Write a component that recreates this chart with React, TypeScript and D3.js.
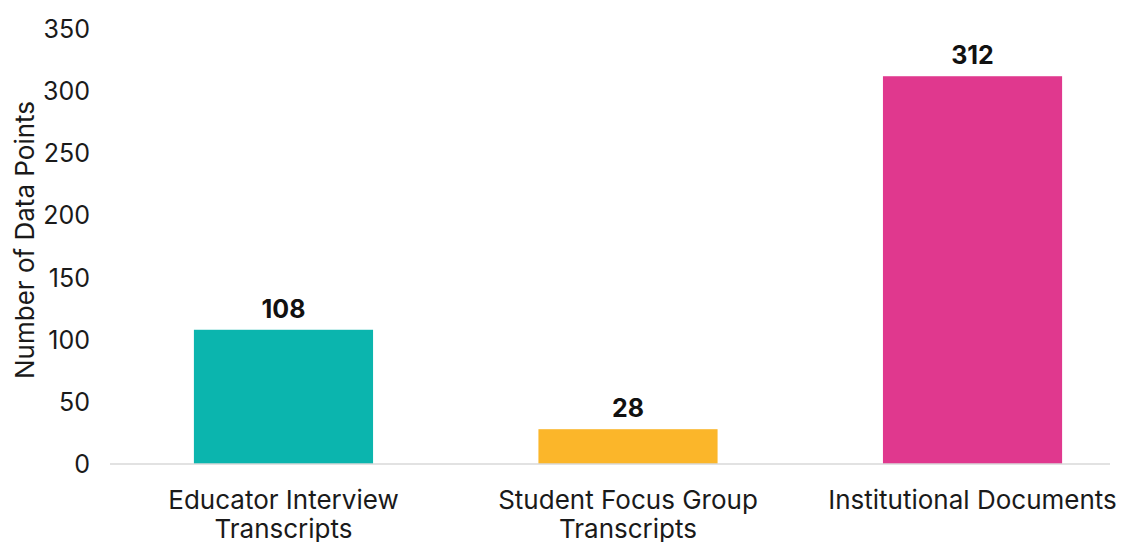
import React from "react";
import * as d3 from "d3";

const categories: string[][] = [
  ["Educator Interview", "Transcripts"],
  ["Student Focus Group", "Transcripts"],
  ["Institutional Documents"],
];
const values: number[] = [108, 28, 312];
const colors: string[] = ["#0BB5AE", "#FBB62A", "#E0388E"];
const yTicks: number[] = [0, 50, 100, 150, 200, 250, 300, 350];
const yTitle = "Number of Data Points";

const W = 1130;
const H = 542;
const FONT = "Inter, 'Open Sans', sans-serif";

export default function App() {
  const keys = categories.map((c) => c.join(" "));
  const x = d3
    .scaleBand<string>()
    .domain(keys)
    .range([125, 1131])
    .paddingInner(0.48)
    .paddingOuter(0.2);
  const y = d3.scaleLinear().domain([0, 350]).range([464, 29]);

  return (
    <svg
      width={W}
      height={H}
      style={{ position: "absolute", left: 0, top: 0, background: "#fff" }}
      fontFamily={FONT}
    >
      {yTicks.map((t) => (
        <text
          key={t}
          x={90}
          y={y(t)}
          textAnchor="end"
          dominantBaseline="central"
          fontSize={25}
          fill="#1a1a1a"
        >
          {t}
        </text>
      ))}
      <text
        transform={`translate(24,240) rotate(-90)`}
        textAnchor="middle"
        dominantBaseline="central"
        fontSize={26}
        fill="#1a1a1a"
      >
        {yTitle}
      </text>
      {values.map((v, i) => (
        <rect
          key={keys[i]}
          x={x(keys[i])}
          y={y(v)}
          width={x.bandwidth()}
          height={y(0) - y(v)}
          fill={colors[i]}
        />
      ))}
      <line x1={110} x2={1110} y1={y(0)} y2={y(0)} stroke="#d9d9d9" strokeWidth={1.5} />
      {values.map((v, i) => (
        <text
          key={"l" + i}
          x={(x(keys[i]) as number) + x.bandwidth() / 2}
          y={y(v) - 12}
          textAnchor="middle"
          fontSize={25}
          fontWeight={700}
          fill="#111"
        >
          {v}
        </text>
      ))}
      {categories.map((lines, i) => (
        <text
          key={"c" + i}
          x={(x(keys[i]) as number) + x.bandwidth() / 2}
          y={509}
          textAnchor="middle"
          fontSize={26}
          fill="#1a1a1a"
        >
          {lines.map((ln, j) => (
            <tspan key={j} x={(x(keys[i]) as number) + x.bandwidth() / 2} dy={j === 0 ? 0 : 29}>
              {ln}
            </tspan>
          ))}
        </text>
      ))}
    </svg>
  );
}
